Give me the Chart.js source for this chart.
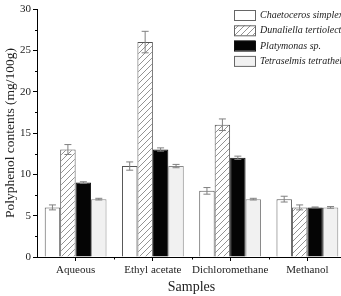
<!DOCTYPE html>
<html>
<head>
<meta charset="utf-8">
<script src="https://cdn.jsdelivr.net/npm/chart.js@4/dist/chart.umd.min.js"></script>
<style>
  html, body { margin: 0; padding: 0; background: #fff; overflow: hidden; }
  #wrap { width: 341px; height: 296px; overflow: hidden; }
</style>
</head>
<body>
<div id="wrap"><canvas id="chart" width="350" height="296"></canvas></div>
<script>
var samples = ["Aqueous", "Ethyl acetate", "Dichloromethane", "Methanol"];
var species = ["Chaetoceros simplex", "Dunaliella tertiolecta", "Platymonas sp.", "Tetraselmis tetrathele"];
var chaetoceros = [6, 11, 8, 7];
var dunaliella = [13, 26, 16, 6];
var platymonas = [9, 13, 12, 6];
var tetraselmis = [7, 11, 7, 6];
var chaetocerosErr = [0.3, 0.5, 0.4, 0.35];
var dunaliellaErr = [0.6, 1.3, 0.7, 0.3];
var platymonasErr = [0.1, 0.2, 0.2, 0.05];
var tetraselmisErr = [0.1, 0.2, 0.1, 0.1];
var yTicks = [0, 5, 10, 15, 20, 25, 30];

var serif = "'Liberation Serif', 'DejaVu Serif', serif";

function hatch() {
  var c = document.createElement("canvas");
  c.width = 6; c.height = 6;
  var g = c.getContext("2d");
  g.fillStyle = "#fff";
  g.fillRect(0, 0, 6, 6);
  g.strokeStyle = "#777";
  g.lineWidth = 0.8;
  g.beginPath();
  g.moveTo(0, 6); g.lineTo(6, 0);
  g.moveTo(-3, 3); g.lineTo(3, -3);
  g.moveTo(3, 9); g.lineTo(9, 3);
  g.stroke();
  return g.createPattern(c, "repeat");
}

var ctx = document.getElementById("chart").getContext("2d");
var hatchFill = hatch();
var fills = ["#ffffff", hatchFill, "#050505", "#f1f1f1"];
var borders = ["#555", "#555", "#111", "#888"];
var errs = [chaetocerosErr, dunaliellaErr, platymonasErr, tetraselmisErr];

var extras = {
  id: "extras",
  afterDatasetsDraw: function(chart) {
    var c = chart.ctx;
    var y = chart.scales.y, x = chart.scales.x;
    c.save();
    // error bars
    c.strokeStyle = "#808080";
    c.lineWidth = 1;
    chart.data.datasets.forEach(function(ds, i) {
      chart.getDatasetMeta(i).data.forEach(function(bar, j) {
        var v = ds.data[j], e = errs[i][j];
        var top = y.getPixelForValue(v + e), bot = y.getPixelForValue(v - e);
        c.beginPath();
        c.moveTo(bar.x, top); c.lineTo(bar.x, bot);
        c.moveTo(bar.x - 3.5, top); c.lineTo(bar.x + 3.5, top);
        c.moveTo(bar.x - 3.5, bot); c.lineTo(bar.x + 3.5, bot);
        c.stroke();
      });
    });
    // minor ticks
    c.strokeStyle = "#000";
    c.beginPath();
    for (var k = 0; k < yTicks.length - 1; k++) {
      var py = Math.round(y.getPixelForValue((yTicks[k] + yTicks[k + 1]) / 2)) + 0.5;
      c.moveTo(y.right - 2, py); c.lineTo(y.right, py);
    }
    for (var m = 1; m < samples.length; m++) {
      var px = Math.round((x.getPixelForValue(m - 1) + x.getPixelForValue(m)) / 2) + 0.5;
      c.moveTo(px, x.top); c.lineTo(px, x.top + 2.5);
    }
    c.stroke();
    // legend
    var lx = 234, ly = 10, step = 15.3;
    c.font = "italic 10px " + serif;
    c.textBaseline = "middle";
    species.forEach(function(name, i) {
      var ty = ly + i * step;
      c.fillStyle = fills[i];
      c.fillRect(lx, ty, 21, 10);
      c.strokeStyle = i === 2 ? "#111" : "#666";
      c.strokeRect(lx + 0.5, ty + 0.5, 21, 10);
      c.fillStyle = "#222";
      c.fillText(name, lx + 26, ty + 5.5);
    });
    c.restore();
  }
};

new Chart(ctx, {
  type: "bar",
  data: {
    labels: samples,
    datasets: [
      { label: species[0], data: chaetoceros },
      { label: species[1], data: dunaliella },
      { label: species[2], data: platymonas },
      { label: species[3], data: tetraselmis }
    ].map(function(d, i) {
      d.backgroundColor = fills[i];
      d.borderColor = borders[i];
      d.borderWidth = 1;
      d.categoryPercentage = 0.8;
      d.barPercentage = 1.0;
      return d;
    })
  },
  options: {
    responsive: false,
    animation: false,
    devicePixelRatio: 1,
    layout: { padding: { top: 9, right: 4, bottom: 0, left: 0 } },
    plugins: { legend: { display: false }, tooltip: { enabled: false } },
    scales: {
      x: {
        afterFit: function(s) { s.height = 39; },
        grid: { offset: false, drawOnChartArea: false, tickLength: 4, color: "#000" },
        border: { color: "#000", width: 1 },
        ticks: { color: "#222", padding: 3, maxRotation: 0, minRotation: 0, autoSkip: false, font: { family: serif, size: 11 } },
        title: { display: true, text: "Samples", color: "#222", padding: { top: 6, bottom: 0 }, font: { family: serif, size: 14 } }
      },
      y: {
        min: 0, max: 30,
        afterFit: function(s) { s.width = 37; },
        afterBuildTicks: function(s) { s.ticks = yTicks.map(function(v) { return { value: v }; }); },
        grid: { drawOnChartArea: false, tickLength: 4, color: "#000" },
        border: { color: "#000", width: 1 },
        ticks: { color: "#222", padding: 2, font: { family: serif, size: 11 } },
        title: { display: true, text: "Polyphenol contents (mg/100g)", color: "#222", padding: { top: 2, bottom: 0 }, font: { family: serif, size: 13.5 } }
      }
    }
  },
  plugins: [extras]
});
</script>
</body>
</html>
